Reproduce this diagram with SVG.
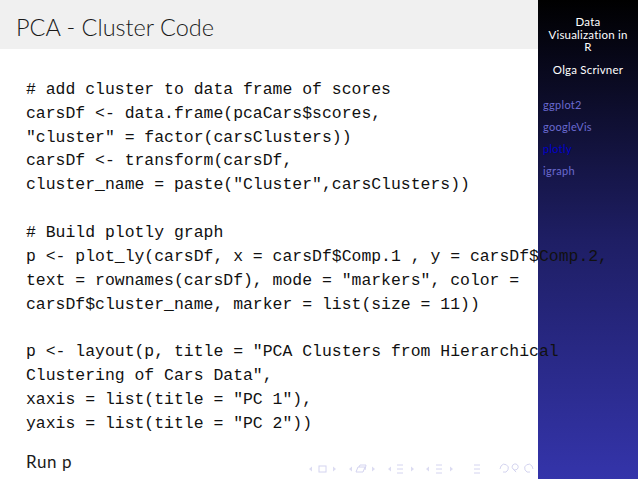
<svg xmlns="http://www.w3.org/2000/svg" width="638" height="479" viewBox="0 0 638 479">
<style>
.code{font-family:"Liberation Mono","DejaVu Sans Mono",monospace;font-size:16.45px;fill:#111}
.side{font-family:Lato,"Noto Sans",sans-serif;font-size:11.5px;fill:#fff;text-anchor:middle;letter-spacing:.2px}
.nav{font-family:Lato,"Noto Sans",sans-serif;font-size:11px;fill:#6a6ad0;letter-spacing:.3px}
.ic{fill:none;stroke:#d4d4f0;stroke-width:1}
.tri{fill:#dcdcf2}
</style>
<defs><linearGradient id="g" x1="0" y1="0" x2="0" y2="1"><stop offset="0" stop-color="#000"/><stop offset=".5" stop-color="#1e1e64"/><stop offset="1" stop-color="#3434aa"/></linearGradient></defs>
<rect width="638" height="479" fill="#fff"/>
<g id="title-bar"><rect width="538" height="49" fill="#f0f0f0"/>
<text x="16" y="36" font-family="Lato,Noto Sans,sans-serif" font-size="23.5" font-weight="300" fill="#1a1a1a">PCA - Cluster Code</text></g>
<g id="sidebar"><rect x="538" width="100" height="479" fill="url(#g)"/>
<text class="side" x="588" y="26">Data</text>
<text class="side" x="588" y="39">Visualization in</text>
<text class="side" x="588" y="51">R</text>
<text class="side" x="588" y="74">Olga Scrivner</text>
<text class="nav" x="543" y="109">ggplot2</text>
<text class="nav" x="543" y="131">googleVis</text>
<text class="nav" x="543" y="153" style="fill:#0000c8">plotly</text>
<text class="nav" x="543" y="175">igraph</text></g>
<g id="code">
<text class="code" x="26" y="94"># add cluster to data frame of scores</text>
<text class="code" x="26" y="118">carsDf &lt;- data.frame(pcaCars$scores,</text>
<text class="code" x="26" y="141.500">"cluster" = factor(carsClusters))</text>
<text class="code" x="26" y="165">carsDf &lt;- transform(carsDf,</text>
<text class="code" x="26" y="189">cluster_name = paste("Cluster",carsClusters))</text>
<text class="code" x="26" y="237"># Build plotly graph</text>
<text class="code" x="26" y="261">p &lt;- plot_ly(carsDf, x = carsDf$Comp.1 , y = carsDf$Comp.2,</text>
<text class="code" x="26" y="285">text = rownames(carsDf), mode = "markers", color =</text>
<text class="code" x="26" y="309">carsDf$cluster_name, marker = list(size = 11))</text>
<text class="code" x="26" y="356">p &lt;- layout(p, title = "PCA Clusters from Hierarchical</text>
<text class="code" x="26" y="380">Clustering of Cars Data",</text>
<text class="code" x="26" y="404">xaxis = list(title = "PC 1"),</text>
<text class="code" x="26" y="428">yaxis = list(title = "PC 2"))</text>
<text x="26" y="468" font-family="Lato,Noto Sans,sans-serif" font-size="17" letter-spacing=".6" fill="#1a1a1a">Run p</text>
</g>
<g id="nav-symbols">
<path class="tri" d="M309 469l3-2.500v5zM333 466.500l3 2.500-3 2.500zM349 469l3-2.500v5zM372 466.500l3 2.500-3 2.500zM388 469l3-2.500v5zM411 466.500l3 2.500-3 2.500zM426 469l3-2.500v5zM450 466.500l3 2.500-3 2.500z"/>
<rect class="ic" x="319" y="466" width="7" height="6"/>
<path class="ic" d="M356 472l2-5h7l-2 5zM359 467l1-2h6l-1 5"/>
<path class="ic" d="M397 465h6M397 469h6M397 473h6M474 465h6M474 469h6M474 473h6M436 465h6M436 469h6M436 473h6"/>
<path class="ic" d="M501 466a4 4 0 1 1 2 6M501 466l-1 3M513 469a3 3 0 1 1 .1 .1l3 3M532 466a4 4 0 1 0 -2 6M532 466l1 3"/>
</g>
</svg>
